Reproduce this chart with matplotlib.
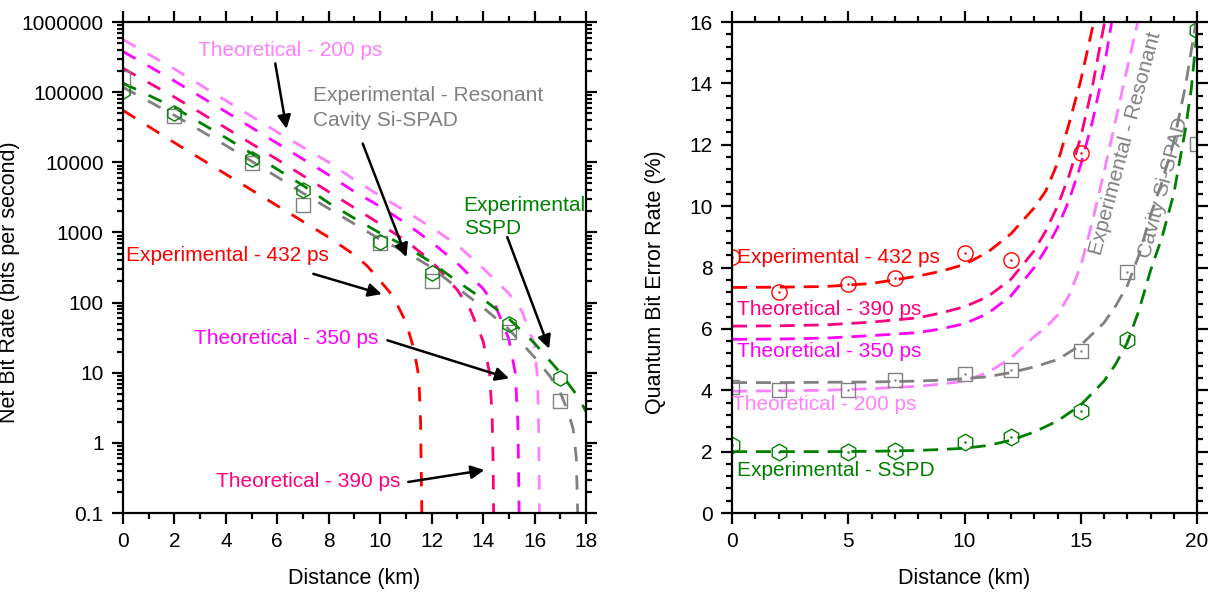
import matplotlib.pyplot as plt
from matplotlib.ticker import MultipleLocator, LogLocator, NullFormatter

plt.rcParams['font.family'] = ['Liberation Sans', 'DejaVu Sans']

# colours of the five detector series
c_432 = '#ff0000'
c_390 = '#ff0080'
c_350 = '#ff00ff'
c_200 = '#ff80ff'
c_spad = '#808080'
c_sspd = '#008000'

# ---------- left panel: net bit rate (bits/s) vs distance (km) ----------
nb_km_432 = [0, 2, 4, 6, 8, 9, 9.5, 10, 10.5, 11, 11.3, 11.5, 11.57, 11.6, 11.62]
nb_432 = [55000, 19050, 6760, 2400, 851, 479, 331, 204, 123, 52.5, 22.4, 8.9, 2.0, 0.32, 0.089]

nb_km_390 = [0, 2, 4, 6, 8, 9, 10, 11, 12, 13, 13.5, 14, 14.25, 14.35, 14.39, 14.41]
nb_390 = [218800, 85100, 30900, 10960, 3800, 2240, 1318, 759, 389, 151, 79.4, 28.2, 10, 2.5, 0.5, 0.089]

nb_km_350 = [0, 2, 4, 6, 8, 9, 10, 11, 12, 13, 14, 14.5, 15, 15.25, 15.35, 15.38, 15.4]
nb_350 = [380200, 144500, 52500, 18620, 6607, 3802, 2344, 1349, 724, 363, 158, 87, 30.2, 10, 2.0, 0.4, 0.089]

nb_km_200 = [0, 2, 4, 6, 8, 9, 10, 11, 12, 13, 14, 15, 15.5, 16, 16.12, 16.16, 16.18, 16.19]
nb_200 = [562300, 213800, 75860, 26920, 10000, 5623, 3311, 1995, 1175, 661, 309, 135, 75.9, 25.1, 7.9, 1.58, 0.32, 0.089]

nb_km_sspd = [0, 2, 4, 6, 7, 8, 9, 10, 11, 12, 13, 14, 15, 16, 17, 17.68, 18]
nb_sspd = [134900, 60260, 22390, 7943, 4677, 2630, 1585, 977, 631, 372, 200, 112, 58.9, 26.3, 10, 4.6, 2.8]

nb_km_spad = [0, 2, 4, 6, 7, 8, 9, 10, 11, 12, 13, 14, 15, 16, 16.6, 17, 17.3, 17.5, 17.62, 17.67, 17.68]
nb_spad = [117500, 46770, 17380, 6166, 3631, 2188, 1318, 794, 525, 316, 162, 85, 41.7, 16.6, 8.9, 5.2, 2.8, 1.58, 0.63, 0.126, 0.089]

nb_pts_km = [0, 2, 5, 7, 10, 12, 15, 17]
nb_pts_spad = [160000, 46000, 9700, 2460, 700, 200, 38.5, 3.9]
nb_pts_sspd = [104000, 51000, 11000, 4030, 720, 261, 50, 8.3]

# ---------- right panel: QBER (%) vs distance (km) ----------
q_km_432 = [0, 2, 4, 6, 8, 9, 10, 11, 12, 13, 13.5, 14, 14.5, 15, 15.5, 15.7]
q_432 = [7.35, 7.36, 7.38, 7.48, 7.72, 7.88, 8.1, 8.5, 9.1, 9.95, 10.5, 11.4, 12.7, 14.1, 15.8, 16.6]

q_km_390 = [0, 2, 4, 6, 8, 9, 10, 11, 12, 13, 13.5, 14, 14.5, 15, 15.5, 16, 16.2]
q_390 = [6.09, 6.1, 6.13, 6.22, 6.36, 6.52, 6.72, 7.05, 7.62, 8.55, 9.2, 10.0, 11.0, 12.25, 13.9, 15.9, 16.8]

q_km_350 = [0, 2, 4, 6, 8, 9, 10, 11, 12, 13, 13.5, 14, 14.5, 15, 15.5, 16, 16.33, 16.5]
q_350 = [5.66, 5.67, 5.7, 5.78, 5.88, 6.0, 6.17, 6.5, 7.08, 8.0, 8.6, 9.3, 10.2, 11.35, 12.75, 14.5, 16.0, 16.8]

q_km_200 = [0, 2, 4, 6, 8, 9, 10, 11, 12, 13, 13.5, 14, 14.5, 15, 15.5, 16, 16.5, 17, 17.45, 17.6]
q_200 = [3.97, 3.98, 4.0, 4.05, 4.13, 4.2, 4.3, 4.58, 5.05, 5.75, 6.05, 6.45, 7.1, 8.05, 9.5, 11.1, 12.8, 14.5, 16.0, 16.6]

q_km_spad = [0, 2, 4, 6, 8, 9, 10, 11, 12, 13, 14, 15, 16, 16.5, 17, 17.5, 18, 18.5, 19, 19.5, 20]
q_spad = [4.25, 4.25, 4.26, 4.27, 4.3, 4.33, 4.38, 4.44, 4.58, 4.76, 5.0, 5.47, 6.2, 6.75, 7.4, 8.4, 9.7, 10.8, 12.1, 13.9, 16.2]

q_km_sspd = [0, 2, 4, 6, 8, 9, 10, 11, 12, 13, 14, 15, 16, 16.5, 17, 17.5, 18, 18.5, 19, 19.5, 19.75, 20]
q_sspd = [2.0, 2.0, 2.0, 2.01, 2.04, 2.07, 2.11, 2.2, 2.37, 2.64, 3.0, 3.52, 4.3, 4.85, 5.55, 6.6, 7.9, 9.0, 10.4, 12.5, 13.8, 15.7]

q_pts_km_432 = [0, 2, 5, 7, 10, 12, 15]
q_pts_432 = [8.35, 7.2, 7.46, 7.67, 8.46, 8.26, 11.74]
q_pts_km = [0, 2, 5, 7, 10, 12, 15, 17, 20]
q_pts_spad = [4.12, 4.0, 4.02, 4.32, 4.52, 4.66, 5.27, 7.86, 12.04]
q_pts_sspd = [2.21, 1.98, 1.98, 2.02, 2.31, 2.49, 3.34, 5.64, 15.74]

FS = 15       # tick labels and annotations
FS_LAB = 15.5  # axis titles
LW = 2.0

fig = plt.figure(figsize=(12.15, 5.95), dpi=100)
ax1 = fig.add_axes([0.1012, 0.1378, 0.3811, 0.8252])
ax2 = fig.add_axes([0.6025, 0.1378, 0.3827, 0.8252])


def dashed(ax, x, y, color, dashes):
    ax.plot(x, y, color=color, lw=LW, dashes=dashes, dash_capstyle='butt')


def arrow(ax, start, end):
    ax.annotate('', xy=end, xytext=start,
                arrowprops=dict(arrowstyle='-|>', color='black', lw=1.8,
                                mutation_scale=20, shrinkA=0, shrinkB=0))


def style(ax):
    for s in ax.spines.values():
        s.set_linewidth(1.6)
    ax.tick_params(which='both', direction='out', top=True, right=True,
                   width=1.6, labelsize=FS, pad=6)
    ax.tick_params(which='major', length=8)
    ax.tick_params(which='minor', length=4)


# ---------------- left ----------------
dl = (5.2, 5.0)
dashed(ax1, nb_km_200, nb_200, c_200, dl)
dashed(ax1, nb_km_350, nb_350, c_350, dl)
dashed(ax1, nb_km_390, nb_390, c_390, dl)
dashed(ax1, nb_km_sspd, nb_sspd, c_sspd, dl)
dashed(ax1, nb_km_spad, nb_spad, c_spad, dl)
dashed(ax1, nb_km_432, nb_432, c_432, dl)
ax1.plot(nb_pts_km, nb_pts_spad, 's', ms=10, mfc='none', mec=c_spad, mew=1.0)
ax1.plot(nb_pts_km, nb_pts_sspd, 'h', ms=11, mfc='none', mec=c_sspd, mew=1.0)

ax1.set_yscale('log')
ax1.set_xlim(0, 18)
ax1.set_ylim(0.1, 1e6)
ax1.set_xticks(range(0, 19, 2))
ax1.xaxis.set_minor_locator(MultipleLocator(1))
ax1.set_yticks([0.1, 1, 10, 100, 1000, 10000, 100000, 1000000])
ax1.set_yticklabels(['0.1', '1', '10', '100', '1000', '10000', '100000', '1000000'])
ax1.yaxis.set_minor_locator(LogLocator(base=10, subs=range(2, 10), numticks=20))
ax1.yaxis.set_minor_formatter(NullFormatter())
style(ax1)
ax1.set_xlabel('Distance (km)', fontsize=FS_LAB, labelpad=12)
ax1.set_ylabel('Net Bit Rate (bits per second)', fontsize=FS_LAB)
ax1.yaxis.set_label_coords(-0.222, 0.47)

ax1.text(6.5, 398000, 'Theoretical - 200 ps', color=c_200, fontsize=FS, ha='center', va='center')
arrow(ax1, (5.92, 257000), (6.36, 30000))
ax1.text(7.37, 91000, 'Experimental - Resonant', color=c_spad, fontsize=FS, ha='left', va='center')
ax1.text(7.37, 39800, 'Cavity Si-SPAD', color=c_spad, fontsize=FS, ha='left', va='center')
arrow(ax1, (9.32, 18500), (11.02, 445))
ax1.text(13.24, 2430, 'Experimental', color=c_sspd, fontsize=FS, ha='left', va='center')
ax1.text(13.24, 1120, 'SSPD', color=c_sspd, fontsize=FS, ha='left', va='center')
arrow(ax1, (14.94, 857), (16.57, 22))
ax1.text(4.07, 468, 'Experimental - 432 ps', color=c_432, fontsize=FS, ha='center', va='center')
arrow(ax1, (7.4, 257), (10.06, 132))
ax1.text(6.33, 31, 'Theoretical - 350 ps', color=c_350, fontsize=FS, ha='center', va='center')
arrow(ax1, (10.28, 29), (15.01, 8.3))
ax1.text(7.21, 0.277, 'Theoretical - 390 ps', color=c_390, fontsize=FS, ha='center', va='center')
arrow(ax1, (11.09, 0.277), (14.05, 0.41))

# ---------------- right ----------------
dr = (5.4, 3.2)
dashed(ax2, q_km_200, q_200, c_200, dr)
dashed(ax2, q_km_350, q_350, c_350, dr)
dashed(ax2, q_km_390, q_390, c_390, dr)
dashed(ax2, q_km_spad, q_spad, c_spad, dr)
dashed(ax2, q_km_sspd, q_sspd, c_sspd, dr)
dashed(ax2, q_km_432, q_432, c_432, dr)
ax2.plot(q_pts_km_432, q_pts_432, 'o', ms=11, mfc='none', mec=c_432, mew=1.0)
ax2.plot(q_pts_km, q_pts_spad, 's', ms=10, mfc='none', mec=c_spad, mew=1.0)
ax2.plot(q_pts_km, q_pts_sspd, 'h', ms=12, mfc='none', mec=c_sspd, mew=1.0)
ax2.plot(q_pts_km_432, q_pts_432, '.', ms=1.5, color=c_432)
ax2.plot(q_pts_km, q_pts_spad, '.', ms=1.5, color=c_spad)
ax2.plot(q_pts_km, q_pts_sspd, '.', ms=1.5, color=c_sspd)

ax2.set_xlim(0, 20)
ax2.set_ylim(0, 16)
ax2.xaxis.set_major_locator(MultipleLocator(5))
ax2.xaxis.set_minor_locator(MultipleLocator(1))
ax2.yaxis.set_major_locator(MultipleLocator(2))
ax2.yaxis.set_minor_locator(MultipleLocator(0.4))
style(ax2)
ax2.set_xlabel('Distance (km)', fontsize=FS_LAB, labelpad=12)
ax2.set_ylabel('Quantum Bit Error Rate (%)', fontsize=FS_LAB)
ax2.yaxis.set_label_coords(-0.142, 0.47)

ax2.text(0.2, 8.33, 'Experimental - 432 ps', color=c_432, fontsize=FS, ha='left', va='center')
ax2.text(0.2, 6.64, 'Theoretical - 390 ps', color=c_390, fontsize=FS, ha='left', va='center')
ax2.text(0.2, 5.26, 'Theoretical - 350 ps', color=c_350, fontsize=FS, ha='left', va='center')
ax2.text(0.0, 3.52, 'Theoretical - 200 ps', color=c_200, fontsize=FS, ha='left', va='center')
ax2.text(0.2, 1.40, 'Experimental - SSPD', color=c_sspd, fontsize=FS, ha='left', va='center')
ax2.text(16.95, 12.05, 'Experimental - Resonant', color=c_spad, fontsize=FS, rotation=75,
         ha='center', va='center', rotation_mode='anchor')
ax2.text(18.55, 10.6, 'Cavity Si-SPAD', color=c_spad, fontsize=FS, rotation=75,
         ha='center', va='center', rotation_mode='anchor')

fig.savefig('out.png', dpi=100)
